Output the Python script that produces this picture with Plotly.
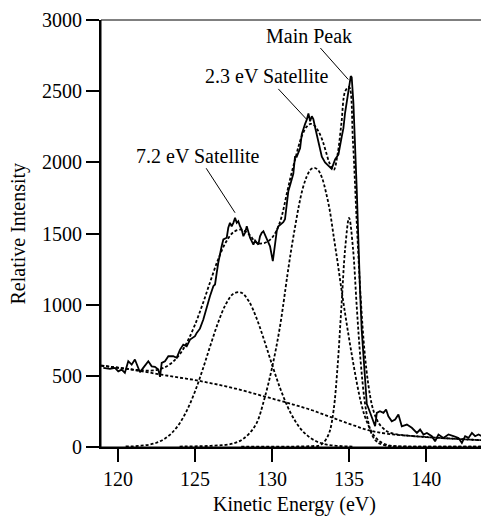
import plotly.graph_objects as go

# Measured spectrum (solid line)
data_energy = [119.05, 119.48, 119.81, 120.02, 120.24, 120.45, 120.67, 120.89, 121.10, 121.32,
               121.43, 121.64, 121.97, 122.19, 122.40, 122.62, 122.73, 122.84, 123.05, 123.27,
               123.59, 123.81, 124.03, 124.24, 124.46, 124.68, 125.00, 125.11, 125.32, 125.54,
               125.76, 125.97, 126.19, 126.30, 126.41, 126.51, 126.73, 126.84, 127.06, 127.16,
               127.27, 127.38, 127.49, 127.60, 127.71, 127.81, 127.92, 128.03, 128.14, 128.25,
               128.36, 128.46, 128.57, 128.68, 128.79, 128.90, 129.01, 129.11, 129.22, 129.33,
               129.44, 129.55, 129.66, 129.87, 130.05, 130.19, 130.31, 130.41, 130.52, 130.63,
               130.73, 130.84, 130.95, 131.06, 131.17, 131.38, 131.49, 131.60, 131.82, 131.93,
               132.14, 132.25, 132.36, 132.47, 132.58, 132.68, 132.79, 133.00, 133.23, 133.44,
               133.65, 133.87, 134.09, 134.31, 134.52, 134.63, 134.74, 134.95, 135.11, 135.17,
               135.28, 135.50, 135.60, 135.71, 135.82, 135.93, 136.04, 136.15, 136.26, 136.47,
               136.69, 136.80, 137.00, 137.23, 137.40, 137.55, 137.77, 137.99, 138.20, 138.42,
               138.75, 139.07, 139.40, 139.61, 139.83, 140.05, 140.37, 140.58, 140.80, 141.12,
               141.45, 141.77, 142.10, 142.32, 142.53, 142.75, 142.97, 143.18, 143.40, 143.62,
               143.83, 143.95]
data_counts = [554, 547, 554, 530, 542, 519, 601, 577, 613, 554,
               523, 554, 601, 565, 561, 542, 491, 589, 601, 636,
               636, 625, 683, 718, 706, 753, 777, 800, 830, 894,
               988, 1058, 1129, 1141, 1223, 1294, 1410, 1458, 1470, 1540,
               1575, 1551, 1575, 1610, 1575, 1587, 1551, 1528, 1481, 1505,
               1551, 1505, 1470, 1446, 1422, 1450, 1434, 1422, 1480, 1505,
               1516, 1490, 1465, 1410, 1305, 1445, 1520, 1551, 1560, 1575,
               1580, 1600, 1720, 1800, 1840, 1920, 2040, 2040, 2100, 2200,
               2270, 2300, 2345, 2290, 2326, 2305, 2250, 2140, 2040, 2000,
               1975, 1955, 2021, 2056, 2180, 2240, 2350, 2514, 2608, 2600,
               2420, 1800, 1400, 1100, 820, 620, 450, 300, 270, 213,
               143, 237, 249, 237, 261, 213, 178, 190, 225, 143,
               155, 132, 96, 120, 85, 96, 73, 37, 85, 61,
               85, 73, 61, 26, 73, 61, 96, 73, 85, 73,
               101, 120]

# Fit components (dashed lines)
fit_energy = [118.9, 119.5, 120.0, 120.5, 121.0, 121.5, 122.0, 122.5, 123.0, 123.5,
              124.0, 124.5, 125.0, 125.5, 126.0, 126.5, 127.0, 127.5, 128.0, 128.5,
              129.0, 129.5, 130.0, 130.5, 131.0, 131.25, 131.5, 131.75, 132.0, 132.25,
              132.5, 132.75, 133.0, 133.25, 133.5, 133.75, 134.0, 134.25, 134.5, 134.75,
              135.0, 135.25, 135.5, 135.75, 136.0, 136.25, 136.5, 136.75, 137.0, 137.5,
              138.0, 138.5, 139.0, 139.5, 140.0, 141.0, 142.0, 143.0, 143.95]
background = [570, 562, 555, 548, 540, 531, 522, 512, 503, 494,
              485, 477, 468, 458, 447, 436, 424, 411, 398, 383,
              368, 353, 338, 323, 308, 300, 292, 284, 276, 268,
              259, 250, 240, 230, 220, 210, 200, 190, 180, 170,
              160, 151, 142, 132, 123, 115, 109, 103, 98, 90,
              84, 79, 75, 71, 67, 60, 54, 48, 43]
sat_72 = [None, None, None, 1, 2, 6, 13, 27, 53, 96,
          163, 260, 388, 543, 712, 873, 1002, 1077, 1084, 1022,
          902, 745, 577, 418, 283, 228, 180, 140, 107, 82,
          60, 44, 31, 22, 15, 10, 7, 5, 3, 2,
          1, 0, None, None, None, None, None, None, None, None,
          None, None, None, None, None, None, None, None, None]
sat_23 = [None, None, None, None, None, None, None, None, None, None,
          0, 1, 2, 3, 5, 8, 12, 22, 45, 90,
          165, 335, 555, 835, 1210, 1390, 1550, 1700, 1820, 1900,
          1950, 1962, 1945, 1890, 1790, 1660, 1480, 1300, 1110, 930,
          760, 600, 450, 320, 220, 150, 95, 60, 35, 10,
          3, 1, 0, 0, 0, 0, 0, 0, 0]
main_peak = [None, None, None, None, None, None, None, None, None, None,
             None, None, None, None, None, None, None, None, 0, 0,
             0, 0, 0, 0, 0, 0, 0, 1, 1, 2,
             3, 4, 5, 20, 50, 110, 260, 560, 980, 1400,
             1610, 1400, 980, 600, 330, 170, 80, 40, 20, 5,
             1, 0, 0, 0, 0, 0, 0, 0, 0]

total = [b + (p or 0) + (q or 0) + (r or 0)
         for b, p, q, r in zip(background, sat_72, sat_23, main_peak)]

x_ticks = [120, 125, 130, 135, 140]
y_ticks = [0, 500, 1000, 1500, 2000, 2500, 3000]

fig = go.Figure()
dash_line = dict(color="black", width=1.8, dash="3px,2px")
for comp in [background, sat_72, sat_23, main_peak, total]:
    fig.add_trace(go.Scatter(x=fit_energy, y=comp, mode="lines", line=dash_line,
                             line_shape="spline", connectgaps=False, showlegend=False,
                             hoverinfo="skip"))
fig.add_trace(go.Scatter(x=data_energy, y=data_counts, mode="lines",
                         line=dict(color="black", width=1.8), showlegend=False))

font_family = "Liberation Serif, Times New Roman, serif"
# The page body has an 8px margin, so the figure is sized/offset to compensate.
fig.update_layout(
    width=481, height=509,
    margin=dict(l=93, r=2, t=12, b=70),
    plot_bgcolor="white", paper_bgcolor="white",
    font=dict(family=font_family, size=20, color="black"),
    showlegend=False,
)
fig.update_xaxes(range=[118.9, 143.95], tickvals=x_ticks, ticktext=[str(v) for v in x_ticks],
                 ticks="outside", ticklen=13, tickwidth=2, tickcolor="black",
                 showline=True, linewidth=2, linecolor="black",
                 showgrid=False, zeroline=False)
fig.update_yaxes(range=[-3, 3003], tickvals=y_ticks, ticktext=[str(v) for v in y_ticks],
                 ticks="outside", ticklen=13, tickwidth=2, tickcolor="black",
                 showline=True, linewidth=2, linecolor="black",
                 showgrid=False, zeroline=False)
fig.add_shape(type="rect", xref="paper", yref="paper", x0=0, y0=0, x1=1, y1=1,
              line=dict(color="black", width=1))

fig.add_annotation(text="Relative Intensity", xref="paper", yref="paper",
                   x=-0.215, y=0.5, textangle=-90, showarrow=False,
                   xanchor="center", yanchor="middle", font=dict(size=20))
fig.add_annotation(text="Kinetic Energy (eV)", xref="paper", yref="paper",
                   x=0.5, y=-0.134, showarrow=False,
                   xanchor="center", yanchor="middle", font=dict(size=20))

labels = [("Main Peak", 134.95, 2584, -39, -44),
          ("2.3 eV Satellite", 132.25, 2303, -40, -43),
          ("7.2 eV Satellite", 127.6, 1646, -37, -57)]
for txt, lx, ly, axp, ayp in labels:
    fig.add_annotation(text=txt, x=lx, y=ly, xref="x", yref="y", ax=axp, ay=ayp,
                       showarrow=True, arrowhead=0, arrowwidth=1, arrowcolor="black",
                       standoff=0, font=dict(size=20))

fig.write_html("out.html")
